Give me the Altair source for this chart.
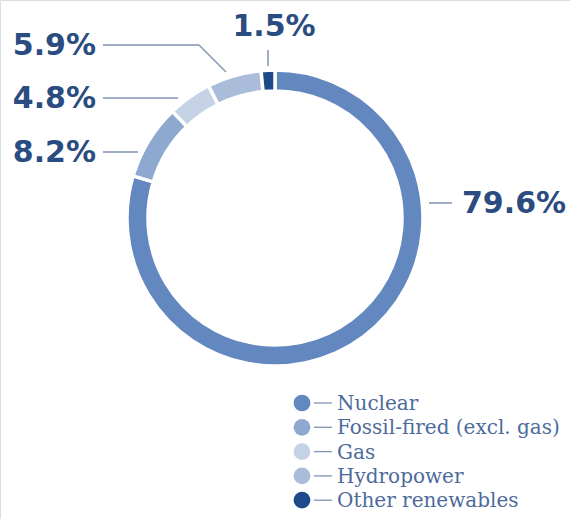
import altair as alt
import pandas as pd

# ---- data ----
categories = ["Nuclear", "Fossil-fired (excl. gas)", "Gas", "Hydropower", "Other renewables"]
values = [79.6, 8.2, 4.8, 5.9, 1.5]
labels = ["79.6%", "8.2%", "4.8%", "5.9%", "1.5%"]
colors = ["#6388bf", "#8ea8cf", "#c5d2e6", "#a9bcda", "#1d4a8a"]

df = pd.DataFrame({"cat": categories, "value": values, "idx": list(range(len(categories))), "label": labels})

# ---- layout (pixel placement of annotations) ----
CX, CY = 275, 218
LABEL_COLOR = "#2b4c80"
LINE_COLOR = "#7f93b3"
label_layout = {
    "79.6%": dict(x=462, y=204, align="left"),
    "8.2%": dict(x=96, y=153, align="right"),
    "4.8%": dict(x=96, y=99, align="right"),
    "5.9%": dict(x=96, y=46, align="right"),
    "1.5%": dict(x=274, y=27, align="center"),
}
leader_paths = [  # (label, list of points)
    ("79.6%", [(429, 203), (452, 203)]),
    ("8.2%", [(103, 152), (138, 152)]),
    ("4.8%", [(103, 98), (178, 98)]),
    ("5.9%", [(103, 45), (199, 45), (226, 72)]),
    ("1.5%", [(268, 50), (268, 66)]),
]

color_scale = alt.Scale(domain=categories, range=colors)

donut = alt.Chart(df).mark_arc(
    innerRadius=127, outerRadius=148, stroke="white", strokeWidth=3.5
).encode(
    theta=alt.Theta("value:Q", stack=True),
    color=alt.Color("cat:N", scale=color_scale, legend=None),
    order=alt.Order("idx:Q"),
    x=alt.value(CX),
    y=alt.value(CY),
)

layers = [donut]

# leader lines
for lab, pts in leader_paths:
    for (x1, y1), (x2, y2) in zip(pts[:-1], pts[1:]):
        layers.append(
            alt.Chart(pd.DataFrame({"l": [lab]})).mark_rule(color=LINE_COLOR, strokeWidth=1.5).encode(
                x=alt.value(x1), y=alt.value(y1), x2=alt.value(x2), y2=alt.value(y2)
            )
        )

# value labels
for lab in labels:
    lay = label_layout[lab]
    layers.append(
        alt.Chart(df[df["label"] == lab]).mark_text(
            font="DejaVu Sans", fontWeight="bold", fontSize=30, color=LABEL_COLOR,
            align=lay["align"], baseline="middle"
        ).encode(text="label:N", x=alt.value(lay["x"]), y=alt.value(lay["y"]))
    )

# manual legend
LEG_X, LEG_Y0, LEG_DY = 302, 403, 24.3
for i, c in enumerate(categories):
    y = LEG_Y0 + i * LEG_DY
    sub = df[df["cat"] == c]
    layers.append(
        alt.Chart(sub).mark_point(filled=True, shape="circle", size=280, opacity=1).encode(
            color=alt.Color("cat:N", scale=color_scale, legend=None),
            x=alt.value(LEG_X), y=alt.value(y)
        )
    )
    layers.append(
        alt.Chart(sub).mark_rule(color=LINE_COLOR, strokeWidth=1.3).encode(
            x=alt.value(314), x2=alt.value(332), y=alt.value(y), y2=alt.value(y)
        )
    )
    layers.append(
        alt.Chart(sub).mark_text(
            font="DejaVu Serif", fontSize=20, color="#4d6b9c", align="left", baseline="middle"
        ).encode(text="cat:N", x=alt.value(337), y=alt.value(y + 1))
    )

chart = alt.layer(*layers).properties(
    width=570, height=519, padding=0, autosize=alt.AutoSizeParams(type="none")
).configure_view(stroke=None).configure(background="white")

chart.save("out.html", embed_options={"renderer": "svg", "actions": False})
